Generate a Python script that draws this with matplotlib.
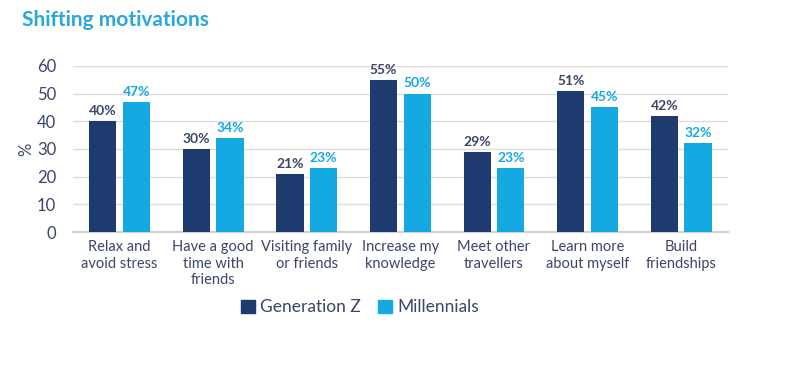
import matplotlib.pyplot as plt
from matplotlib.patches import Patch
import numpy as np

categories = ['Relax and\navoid stress', 'Have a good\ntime with\nfriends', 'Visiting family\nor friends',
              'Increase my\nknowledge', 'Meet other\ntravellers', 'Learn more\nabout myself', 'Build\nfriendships']
gen_z = [40, 30, 21, 55, 29, 51, 42]
millennials = [47, 34, 23, 50, 23, 45, 32]
series_names = ['Generation Z', 'Millennials']

dark = '#1d3b6e'
light = '#14a9e1'
text_col = '#3b4668'

plt.rcParams['font.family'] = ['Lato', 'DejaVu Sans']

fig = plt.figure(figsize=(8, 3.66), dpi=100)
ax = fig.add_axes([0.091, 0.366, 0.819, 0.454])

x = np.arange(len(categories))
w = 0.29
gap = 0.035
b1 = ax.bar(x - w / 2 - gap, gen_z, w, color=dark, zorder=3)
b2 = ax.bar(x + w / 2 + gap, millennials, w, color=light, zorder=3)

for rect, v in zip(b1, gen_z):
    ax.text(rect.get_x() + rect.get_width() / 2, v + 1.5, f'{v}%', ha='center', va='bottom',
            color=text_col, fontsize=10, fontweight='bold')
for rect, v in zip(b2, millennials):
    ax.text(rect.get_x() + rect.get_width() / 2, v + 1.5, f'{v}%', ha='center', va='bottom',
            color=light, fontsize=10, fontweight='bold')

ax.set_xlim(-0.5, len(categories) - 0.5)
ax.set_ylim(0, 60)
ax.set_yticks(range(0, 61, 10))
ax.set_xticks(x)
ax.set_xticklabels(categories, color=text_col, fontsize=10.5, linespacing=1.2)
ax.tick_params(axis='y', colors=text_col, labelsize=12, length=0, pad=12)
ax.tick_params(axis='x', length=0, pad=6)
ax.grid(axis='y', color='#dcdcdc', linewidth=1, zorder=0)
ax.set_axisbelow(True)
for s in ['top', 'right', 'left']:
    ax.spines[s].set_visible(False)
ax.spines['bottom'].set_color('#d0d0d0')
ax.spines['bottom'].set_linewidth(1.5)
ax.set_ylabel('%', color=text_col, fontsize=12, labelpad=2)

handles = [Patch(color=dark), Patch(color=light)]
fig.legend(handles, series_names, loc='center', bbox_to_anchor=(0.45, 0.16), ncol=2, frameon=False,
           fontsize=12.5, handlelength=0.8, handleheight=0.8, handletextpad=0.3, columnspacing=1.0,
           labelcolor=text_col)

fig.text(0.028, 0.945, 'Shifting motivations', color='#2ba6de', fontsize=15, fontweight='bold',
         ha='left', va='center')

fig.savefig('out.png', dpi=100)
